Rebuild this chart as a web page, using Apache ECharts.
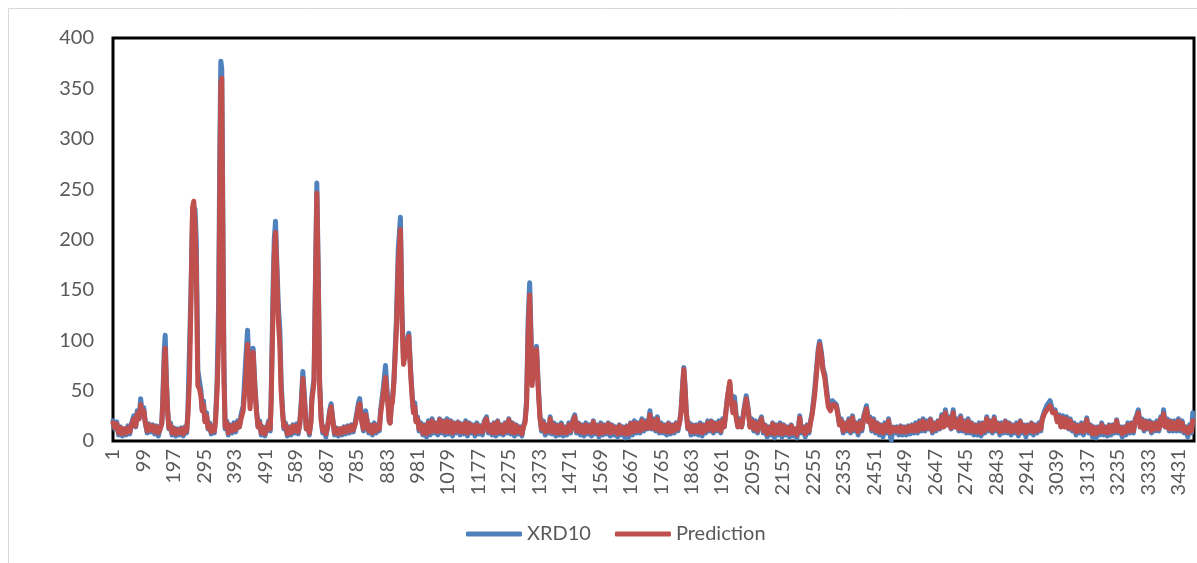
<!DOCTYPE html>
<html>
<head>
<meta charset="utf-8">
<script src="https://cdn.jsdelivr.net/npm/echarts@6/dist/echarts.min.js"></script>
<style>
  html, body { margin: 0; padding: 0; background: #ffffff; }
  #chart { width: 1197px; height: 563px; }
</style>
</head>
<body>
<div id="chart"></div>
<script>
// Sample numbers along the scan (category axis runs 1 .. sampleCount)
const sampleCount = 3480;
const categories = Array.from({ length: sampleCount }, (_, i) => String(i + 1));

// Recorded points: sample number, measured XRD10 intensity, model prediction
const sampleNo = [
  1,7,13,19,25,31,37,43,49,55,
  61,68,74,79,85,90,95,100,105,111,
  117,123,129,135,141,147,153,158,161,166,
  169,173,177,181,186,191,197,203,209,215,
  221,227,233,238,242,247,252,257,261,265,
  269,274,279,284,288,292,297,302,307,312,
  317,322,327,331,336,341,345,348,351,354,
  358,362,367,372,378,384,390,396,402,408,
  413,420,428,434,438,442,447,452,457,463,
  468,473,478,484,490,496,502,507,510,516,
  520,524,528,533,538,542,547,551,556,562,
  568,574,580,586,592,597,602,607,612,618,
  623,628,633,638,641,648,652,657,662,666,
  671,676,681,686,692,698,703,709,714,720,
  726,732,738,744,750,756,762,768,774,780,
  786,791,795,801,807,814,819,824,830,836,
  842,848,854,858,862,870,878,883,886,890,
  893,897,900,905,913,919,926,931,936,945,
  953,959,964,968,972,976,981,986,992,998,
  1004,1010,1016,1022,1028,1034,1040,1046,1052,1058,
  1064,1070,1076,1082,1088,1094,1100,1106,1112,1118,
  1124,1130,1136,1142,1148,1154,1160,1166,1172,1178,
  1184,1190,1196,1203,1209,1215,1221,1227,1233,1239,
  1245,1251,1257,1263,1269,1275,1281,1287,1293,1299,
  1305,1311,1317,1322,1327,1332,1337,1342,1346,1350,
  1356,1364,1369,1375,1380,1386,1392,1398,1404,1408,
  1414,1420,1426,1432,1438,1444,1450,1456,1462,1468,
  1474,1480,1487,1493,1499,1505,1511,1517,1523,1529,
  1535,1541,1547,1553,1559,1565,1571,1577,1583,1589,
  1595,1601,1607,1613,1619,1625,1631,1637,1643,1649,
  1655,1661,1667,1673,1679,1685,1691,1697,1703,1709,
  1715,1722,1729,1735,1741,1747,1753,1759,1765,1771,
  1777,1783,1789,1795,1801,1807,1813,1819,1825,1829,
  1832,1838,1842,1846,1851,1856,1861,1867,1873,1879,
  1885,1891,1897,1903,1909,1915,1921,1927,1933,1939,
  1945,1951,1957,1963,1968,1973,1979,1986,1991,1996,
  2001,2007,2012,2018,2024,2032,2039,2046,2051,2057,
  2063,2069,2075,2081,2088,2094,2100,2106,2112,2118,
  2124,2130,2136,2142,2148,2154,2160,2166,2172,2178,
  2184,2190,2196,2202,2208,2211,2217,2223,2229,2235,
  2241,2246,2251,2259,2266,2271,2275,2281,2286,2292,
  2298,2303,2310,2316,2323,2329,2334,2339,2345,2351,
  2357,2363,2369,2375,2381,2387,2393,2399,2405,2411,
  2418,2426,2432,2437,2443,2449,2455,2461,2467,2473,
  2479,2485,2491,2497,2503,2506,2512,2518,2524,2530,
  2536,2542,2548,2554,2560,2566,2572,2578,2584,2590,
  2596,2602,2608,2614,2620,2626,2632,2638,2644,2650,
  2656,2662,2668,2674,2680,2686,2692,2698,2705,2711,
  2717,2723,2729,2735,2741,2747,2753,2759,2765,2771,
  2777,2783,2789,2795,2801,2807,2813,2819,2825,2831,
  2837,2843,2849,2855,2861,2867,2873,2879,2885,2891,
  2897,2903,2909,2915,2921,2927,2933,2939,2945,2951,
  2957,2963,2969,2975,2981,2987,2991,2997,3006,3017,
  3025,3033,3040,3046,3052,3058,3064,3070,3076,3082,
  3088,3094,3100,3106,3112,3118,3124,3130,3135,3141,
  3147,3153,3159,3165,3171,3177,3183,3189,3195,3201,
  3207,3213,3219,3225,3231,3237,3243,3249,3255,3261,
  3267,3273,3279,3285,3291,3296,3301,3307,3313,3319,
  3325,3331,3337,3343,3349,3355,3361,3367,3373,3378,
  3382,3388,3394,3400,3406,3412,3418,3424,3430,3436,
  3442,3448,3454,3460,3466,3472,3476
];

const xrd10 = [
  20,12,19,6,14,5,12,6,15,7,
  18,25,14,30,22,42,28,33,18,8,
  17,9,16,7,15,5,13,18,40,90,
  105,60,30,12,18,6,13,5,12,6,
  13,5,14,8,30,90,150,225,232,230,
  200,70,60,50,32,40,20,28,12,18,
  7,14,8,22,60,140,300,377,370,250,
  80,12,20,6,16,8,18,9,20,14,
  26,35,80,110,80,40,60,92,60,30,
  14,20,6,14,5,13,20,10,45,150,
  200,218,180,135,110,60,30,12,18,5,
  14,6,16,8,17,7,18,40,69,40,
  12,18,6,20,44,62,150,256,160,60,
  22,8,14,4,15,30,37,20,6,13,
  5,12,6,14,7,15,8,16,9,18,
  28,38,42,22,10,30,20,8,16,6,
  18,8,16,10,30,50,75,50,40,20,
  18,38,40,60,120,190,222,130,80,95,
  107,70,45,30,38,20,24,10,18,6,
  16,4,20,6,22,8,18,6,22,8,
  20,6,22,7,20,5,18,8,19,6,
  17,7,20,5,18,8,16,5,18,7,
  15,6,20,24,8,16,6,18,5,20,
  7,16,6,18,8,22,7,18,5,16,
  7,14,5,15,20,40,120,157,110,60,
  85,94,60,25,10,20,6,16,8,24,
  7,18,5,16,6,18,5,14,6,18,
  8,20,26,8,18,6,16,5,18,7,
  16,5,20,7,16,4,18,6,16,7,
  18,5,16,6,14,4,16,6,14,3,
  15,4,18,6,20,8,18,8,22,10,
  20,12,30,12,22,10,24,8,18,8,
  16,6,18,7,16,8,18,10,20,30,
  45,73,55,30,12,18,6,16,7,16,
  6,18,5,16,8,20,10,20,8,18,
  10,20,8,22,14,28,45,57,40,30,
  44,24,14,22,14,32,45,30,14,22,
  10,20,8,18,24,8,16,4,14,6,
  18,3,16,6,18,4,16,6,14,4,
  16,5,12,3,16,25,8,14,4,16,
  8,20,28,50,75,92,99,88,72,66,
  50,38,32,40,38,36,28,16,22,8,
  18,10,22,8,25,10,18,6,20,10,
  26,35,20,24,10,22,8,18,6,16,
  4,18,8,22,4,1,14,8,14,6,
  15,6,14,6,15,7,16,8,18,8,
  20,10,22,10,20,12,22,8,18,10,
  20,12,26,14,31,16,24,12,31,14,
  22,10,25,10,20,8,22,8,18,6,
  16,6,18,5,18,8,24,10,20,8,
  24,10,18,6,18,8,20,8,18,6,
  16,8,18,5,20,8,16,4,16,8,
  18,6,16,8,18,10,22,28,35,40,
  30,31,20,26,14,25,14,24,12,22,
  10,18,6,16,8,18,6,16,23,8,
  16,4,14,3,14,6,18,6,14,5,
  16,6,16,8,21,8,14,4,14,6,
  18,8,18,8,22,26,31,14,22,10,
  20,12,20,8,18,10,20,10,24,16,
  31,14,22,10,20,10,20,10,22,10,
  20,8,14,4,16,8,28
];

const prediction = [
  18,13,17,8,13,7,12,8,13,9,
  16,22,15,27,22,36,27,30,18,10,
  16,11,15,9,14,8,12,17,35,78,
  92,55,28,13,16,8,12,7,11,8,
  12,7,13,10,25,60,140,232,238,215,
  175,55,52,45,30,36,19,25,13,16,
  9,13,10,20,50,100,260,355,360,220,
  60,14,18,8,15,10,16,11,18,14,
  22,30,60,96,70,32,55,88,55,28,
  14,18,8,13,7,12,18,12,38,130,
  185,207,170,120,95,50,26,14,16,7,
  13,8,15,10,15,9,16,35,62,36,
  12,16,8,18,40,58,140,246,150,55,
  20,10,13,7,14,27,34,19,8,12,
  7,12,8,13,9,14,10,15,11,16,
  25,34,37,20,12,26,19,10,15,8,
  16,10,15,12,26,45,63,45,36,20,
  18,35,38,58,110,175,210,120,76,92,
  104,66,42,28,34,19,22,12,16,8,
  15,7,18,9,20,10,17,9,21,10,
  19,9,20,9,19,8,17,10,18,9,
  16,9,18,8,17,10,15,8,16,9,
  14,9,18,22,10,15,8,17,8,19,
  9,15,8,17,10,21,9,17,8,15,
  9,13,7,14,18,36,105,145,100,55,
  80,91,55,23,12,18,9,15,10,22,
  9,16,8,15,8,16,8,13,8,16,
  10,18,24,10,17,9,15,8,16,9,
  15,8,19,9,15,7,16,8,15,9,
  17,8,15,9,13,7,15,8,13,7,
  14,7,17,9,18,10,17,10,20,12,
  18,13,26,13,20,12,22,10,16,10,
  15,9,17,9,15,10,17,12,19,28,
  42,71,52,28,13,16,9,15,9,15,
  9,16,8,15,10,18,12,19,10,17,
  12,18,10,20,14,27,44,59,40,28,
  38,22,14,20,14,30,42,28,14,20,
  12,18,10,16,22,10,15,7,13,8,
  17,7,15,8,16,7,15,8,13,7,
  15,8,12,6,15,23,10,13,7,15,
  10,18,26,45,70,88,96,84,70,62,
  46,34,30,36,36,34,26,16,20,10,
  17,12,20,10,23,12,17,9,18,12,
  24,32,19,22,12,20,10,17,9,15,
  8,16,10,20,8,7,13,10,13,9,
  14,9,13,9,14,10,15,10,16,10,
  18,12,20,12,18,13,21,10,17,12,
  19,13,24,14,28,16,22,13,28,14,
  20,12,23,12,18,10,20,10,17,9,
  15,9,16,8,17,10,22,12,19,10,
  22,12,17,9,16,10,19,10,17,9,
  15,10,16,8,19,10,15,8,15,10,
  17,9,15,10,16,12,20,26,31,35,
  28,29,19,24,14,23,14,22,13,20,
  12,16,9,15,10,16,9,15,21,10,
  15,7,13,7,13,9,16,9,13,8,
  15,9,15,10,20,10,13,7,13,9,
  16,10,17,10,20,24,28,14,20,12,
  19,13,18,10,17,12,18,12,22,16,
  27,14,20,12,19,12,18,12,20,12,
  18,10,13,8,14,10,20
];

const seriesNames = ['XRD10', 'Prediction'];
const seriesColors = ['#4F81BD', '#C0504D'];

const font = 'Lato, "Open Sans", sans-serif';
const labelColor = '#595959';

const toPairs = (values) => sampleNo.map((n, i) => [String(n), values[i]]);

const chart = echarts.init(document.getElementById('chart'), null, { renderer: 'canvas' });

chart.setOption({
  animation: false,
  backgroundColor: '#ffffff',
  graphic: [{
    type: 'rect',
    shape: { x: 8.5, y: 8.5, width: 1300, height: 700 },
    style: { fill: 'none', stroke: '#d9d9d9', lineWidth: 1 },
    silent: true,
    z: -10
  }],
  grid: {
    left: 113, right: 3, top: 38, bottom: 122,
    show: true,
    borderColor: '#000000',
    borderWidth: 3,
    backgroundColor: 'transparent'
  },
  legend: {
    data: seriesNames,
    left: 461,
    top: 519,
    icon: 'roundRect',
    itemWidth: 56,
    itemHeight: 5,
    itemGap: 24,
    textStyle: { fontFamily: font, fontSize: 20, color: labelColor }
  },
  xAxis: {
    type: 'category',
    data: categories,
    boundaryGap: false,
    axisLine: { show: true, lineStyle: { color: '#000000', width: 1 } },
    axisTick: { show: false },
    splitLine: { show: false },
    axisLabel: {
      interval: 97,
      rotate: 90,
      margin: 8,
      fontFamily: font,
      fontSize: 20,
      color: labelColor
    }
  },
  yAxis: {
    type: 'value',
    min: 0,
    max: 400,
    interval: 50,
    axisLine: { show: false },
    axisTick: { show: false },
    splitLine: { show: false },
    axisLabel: {
      margin: 19,
      fontFamily: font,
      fontSize: 20,
      color: labelColor
    }
  },
  series: [
    {
      name: seriesNames[0],
      type: 'line',
      data: toPairs(xrd10),
      showSymbol: false,
      symbol: 'none',
      color: seriesColors[0],
      lineStyle: { width: 5, color: seriesColors[0], cap: 'round', join: 'round' },
      z: 2
    },
    {
      name: seriesNames[1],
      type: 'line',
      data: toPairs(prediction),
      showSymbol: false,
      symbol: 'none',
      color: seriesColors[1],
      lineStyle: { width: 5, color: seriesColors[1], cap: 'round', join: 'round' },
      z: 3
    }
  ]
});
</script>
</body>
</html>
